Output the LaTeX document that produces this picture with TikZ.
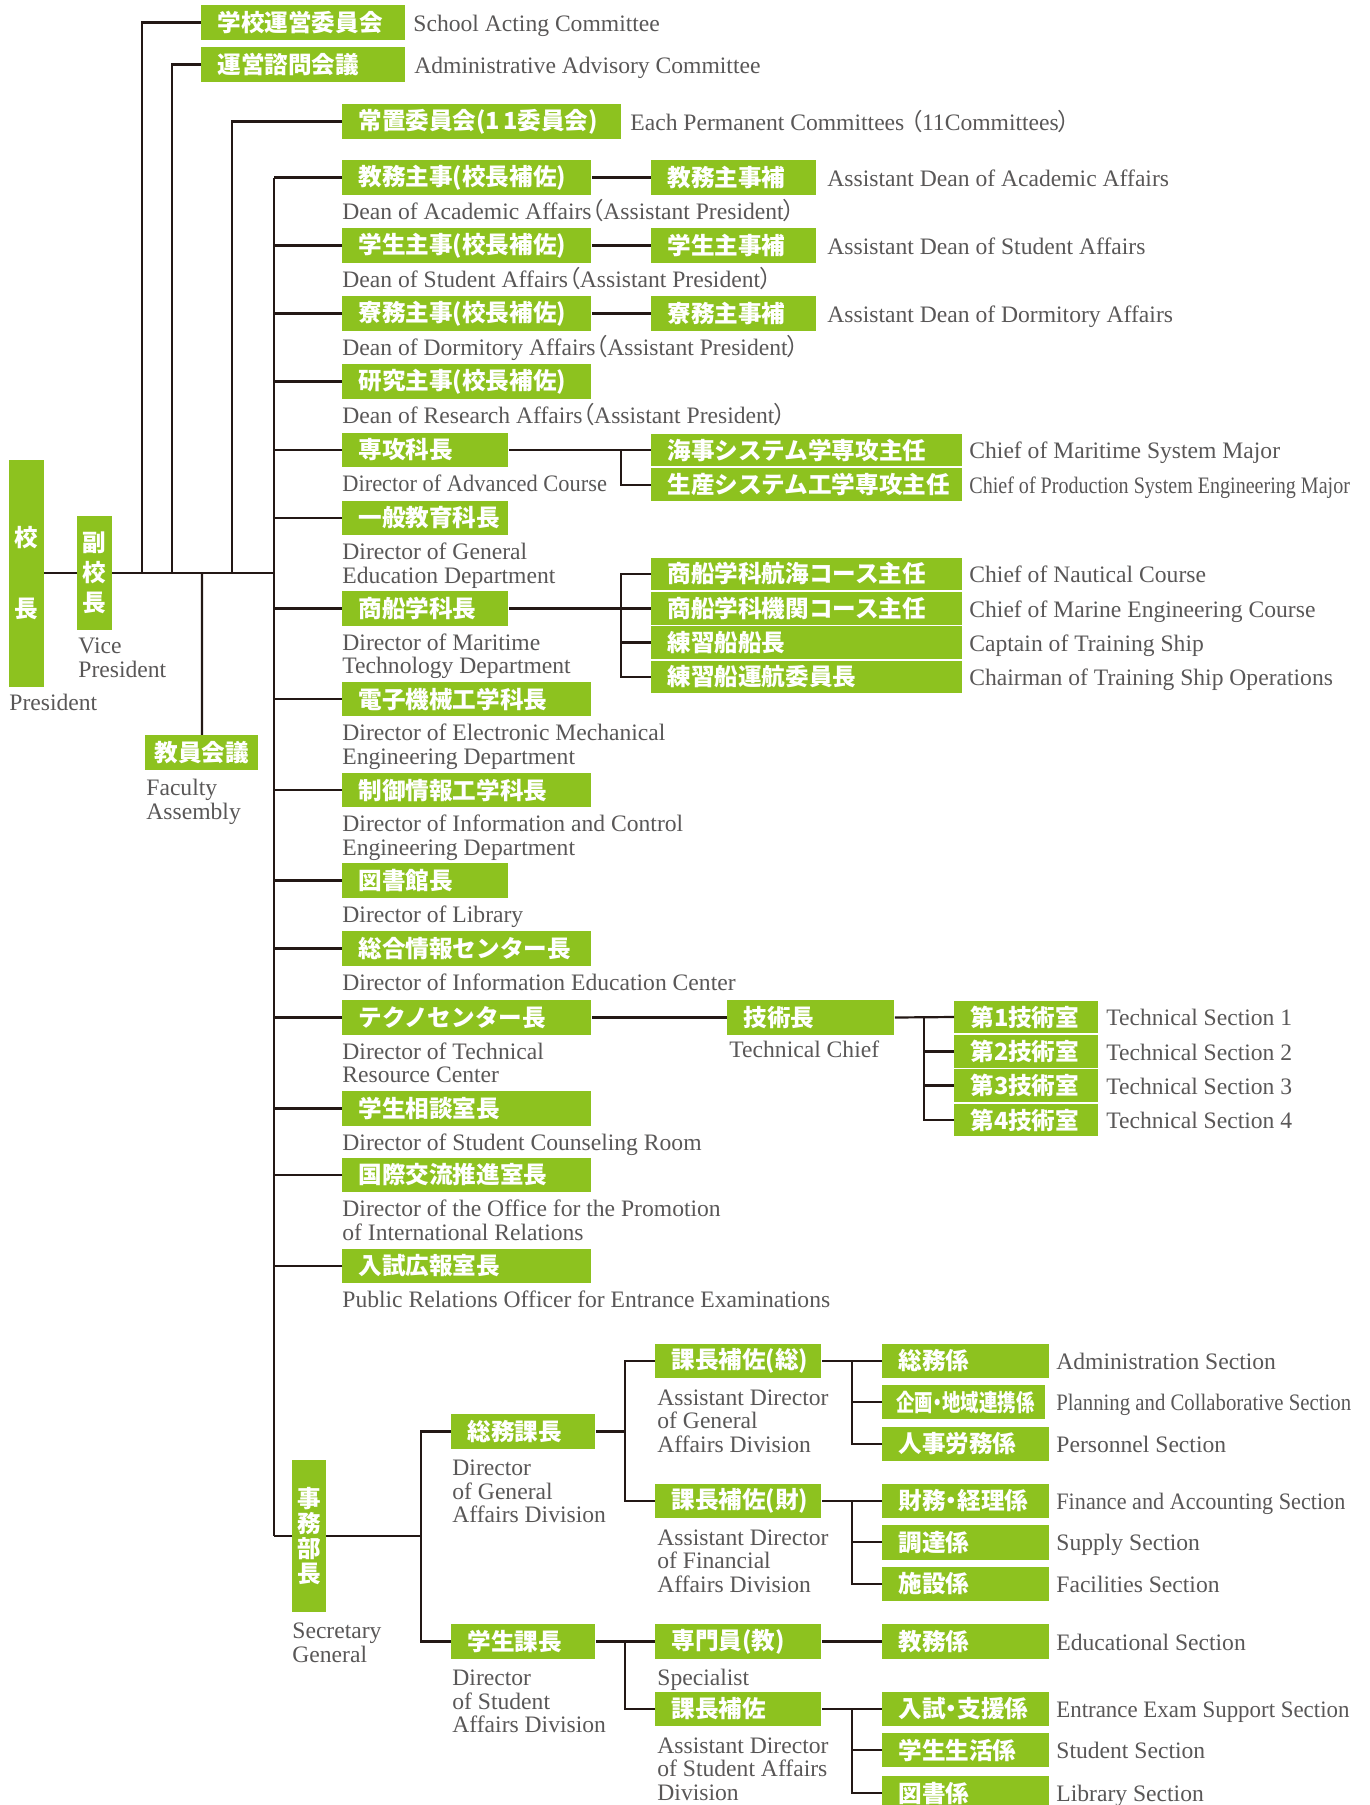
\documentclass[tikz,border=0pt]{standalone}
\usepackage{fontspec}
\usepackage{graphicx}
\setmainfont{Liberation Serif}
\newfontfamily\jp{Noto Sans CJK JP}
\newfontfamily\jpp[RawFeature=+palt]{Noto Sans CJK JP}
\definecolor{grn}{HTML}{8DC21F}
\definecolor{txt}{HTML}{595757}
\definecolor{ln}{HTML}{231815}
\newcommand{\ml}[1]{\begin{tabular}[t]{@{}l@{}}#1\end{tabular}}
\newcommand{\jl}{{\jpp\mdseries （}}
\newcommand{\jr}{{\jpp\mdseries ）}}
\tikzset{
  conn/.style={draw=ln, line width=1.1pt},
  gb/.style={fill=grn, text=white, font=\jp\bfseries\fontsize{11.8}{12}\selectfont,
    inner xsep=8pt, inner ysep=0pt, minimum height=17.3pt, anchor=west, align=left, text width=#1},
  stk/.style={minimum height=16.3pt},
  vb/.style={fill=grn, text=white, inner sep=0pt, align=center},
  lab/.style={text=txt, font=\fontsize{11.8}{11.75}\selectfont, inner sep=0pt, anchor=base west},
}
\begin{document}
\begin{tikzpicture}[x=0.5pt,y=-0.5pt]
\useasboundingbox (0,0) rectangle (1370,1805);
% ---------- president / vice president / faculty
\node[vb, minimum width=17.5pt, minimum height=113.5pt, font=\jp\bfseries\fontsize{11.8}{35.5}\selectfont] (pres) at (26.5,573) {校\\長};
\node[lab] (presE) at (9,710.5) {President};
\node[vb, minimum width=17.5pt, minimum height=57pt, font=\jp\bfseries\fontsize{11.8}{15}\selectfont] (vp) at (94.5,573) {副\\校\\長};
\node[lab] (vpE) at (78,653.5) {\ml{Vice\\President}};
\node[gb=47.5pt, inner xsep=4.5pt] (fa) at (145,752.5) {教員会議};
\node[lab] (faE) at (146,795.5) {\ml{Faculty\\Assembly}};
% ---------- top committees
\node[gb=86pt] (sac) at (201,22.5) {学校運営委員会};
\node[lab] (sacE) at (413,31) {School Acting Committee};
\node[gb=86pt] (aac) at (201,64.5) {運営諮問会議};
\node[lab] (aacE) at (414,73) {Administrative Advisory Committee};
\node[gb=123.5pt] (pc) at (342,121.5) {常置委員会(1\kern1.5pt 1委員会)};
\node[lab] (pcE) at (630,130) {Each Permanent Committees \jl 11Committees\jr};
% trunk coordinates
\coordinate (j1) at (142,573);
\coordinate (j2) at (172,573);
\coordinate (jfa) at (202,573);
\coordinate (j3) at (232,573);
\coordinate (tTop) at (274,177.5);
\coordinate (tBot) at (274,1536);
% ---------- rows
\node[gb=108.5pt] (r1) at (342,177.5) {教務主事(校長補佐)};
\node[lab] (r1E) at (342,219) {Dean of Academic Affairs\jl Assistant President\jr};
\node[gb=66.5pt] (a1) at (651,177.5) {教務主事補};
\node[lab] (a1E) at (827,186) {Assistant Dean of Academic Affairs};
\node[gb=108.5pt] (r2) at (342,245.5) {学生主事(校長補佐)};
\node[lab] (r2E) at (342,287) {Dean of Student Affairs\jl Assistant President\jr};
\node[gb=66.5pt] (a2) at (651,245.5) {学生主事補};
\node[lab] (a2E) at (827,254) {Assistant Dean of Student Affairs};
\node[gb=108.5pt] (r3) at (342,313.5) {寮務主事(校長補佐)};
\node[lab] (r3E) at (342,355) {Dean of Dormitory Affairs\jl Assistant President\jr};
\node[gb=66.5pt] (a3) at (651,313.5) {寮務主事補};
\node[lab] (a3E) at (827,322) {Assistant Dean of Dormitory Affairs};
\node[gb=108.5pt] (r4) at (342,381.5) {研究主事(校長補佐)};
\node[lab] (r4E) at (342,423) {Dean of Research Affairs\jl Assistant President\jr};
\node[gb=67pt] (r5) at (342,450) {専攻科長};
\node[lab] (r5E) at (342,491.5) {\scalebox{0.95}[1]{Director of Advanced Course}};
\node[gb=139.5pt, stk] (m1) at (651,450) {海事システム学専攻主任};
\node[lab] (m1E) at (969,458.5) {Chief of Maritime System Major};
\node[gb=139.5pt, stk] (m2) at (651,484.7) {生産システム工学専攻主任};
\node[lab] (m2E) at (969,493.2) {\scalebox{0.85}[1]{Chief of Production System Engineering Major}};
\node[gb=67pt] (r6) at (342,518) {一般教育科長};
\node[lab] (r6E) at (342,559.5) {\ml{Director of General\\Education Department}};
\node[gb=67pt] (r7) at (342,608.5) {商船学科長};
\node[lab] (r7E) at (342,650) {\ml{Director of Maritime\\Technology Department}};
\node[gb=139.5pt, stk] (s1) at (651,574) {商船学科航海コース主任};
\node[lab] (s1E) at (969,582.5) {Chief of Nautical Course};
\node[gb=139.5pt, stk] (s2) at (651,608.5) {商船学科機関コース主任};
\node[lab] (s2E) at (969,617) {Chief of Marine Engineering Course};
\node[gb=139.5pt, stk] (s3) at (651,642.5) {練習船船長};
\node[lab] (s3E) at (969,651) {Captain of Training Ship};
\node[gb=139.5pt, stk] (s4) at (651,677) {練習船運航委員長};
\node[lab] (s4E) at (969,685.5) {Chairman of Training Ship Operations};
\node[gb=108.5pt] (r8) at (342,699) {電子機械工学科長};
\node[lab] (r8E) at (342,740.5) {\ml{Director of Electronic Mechanical\\Engineering Department}};
\node[gb=108.5pt] (r9) at (342,790) {制御情報工学科長};
\node[lab] (r9E) at (342,831.5) {\ml{Director of Information and Control\\Engineering Department}};
\node[gb=67pt] (r10) at (342,880.5) {図書館長};
\node[lab] (r10E) at (342,922) {Director of Library};
\node[gb=108.5pt] (r11) at (342,948.5) {総合情報センター長};
\node[lab] (r11E) at (342,990) {Director of Information Education Center};
\node[gb=108.5pt] (r12) at (342,1017.5) {テクノセンター長};
\node[lab] (r12E) at (342,1059) {\ml{Director of Technical\\Resource Center}};
\node[gb=67.5pt] (tc) at (727,1017.5) {技術長};
\node[lab] (tcE) at (729,1057) {Technical Chief};
\node[gb=56pt, stk] (t1) at (954,1017) {第1技術室};
\node[lab] (t1E) at (1106,1025.5) {Technical Section 1};
\node[gb=56pt, stk] (t2) at (954,1051.5) {第2技術室};
\node[lab] (t2E) at (1106,1060) {Technical Section 2};
\node[gb=56pt, stk] (t3) at (954,1085.5) {第3技術室};
\node[lab] (t3E) at (1106,1094) {Technical Section 3};
\node[gb=56pt, stk] (t4) at (954,1120) {第4技術室};
\node[lab] (t4E) at (1106,1128.5) {Technical Section 4};
\node[gb=108.5pt] (r13) at (342,1108.5) {学生相談室長};
\node[lab] (r13E) at (342,1150) {Director of Student Counseling Room};
\node[gb=108.5pt] (r14) at (342,1175) {国際交流推進室長};
\node[lab] (r14E) at (342,1216.5) {\ml{Director of the Office for the Promotion\\of International Relations}};
\node[gb=108.5pt] (r15) at (342,1266) {入試広報室長};
\node[lab] (r15E) at (342,1307.5) {Public Relations Officer for Entrance Examinations};
% ---------- secretary general
\node[vb, minimum width=17pt, minimum height=76pt, font=\jp\bfseries\fontsize{11.8}{12.35}\selectfont] (sg) at (309,1536) {事\\務\\部\\長};
\node[lab] (sgE) at (292,1638.5) {\ml{Secretary\\General}};
\node[gb=56pt] (g1) at (451,1431.5) {総務課長};
\node[lab] (g1E) at (452,1475.5) {\ml{Director\\of General\\Affairs Division}};
\node[gb=56pt] (g2) at (451,1641.5) {学生課長};
\node[lab] (g2E) at (452,1685.5) {\ml{Director\\of Student\\Affairs Division}};
\node[gb=67pt] (k1) at (655,1361) {課長補佐(総)};
\node[lab] (k1E) at (657,1405) {\ml{Assistant Director\\of General\\Affairs Division}};
\node[gb=67pt] (k2) at (655,1501) {課長補佐(財)};
\node[lab] (k2E) at (657,1545) {\ml{Assistant Director\\of Financial\\Affairs Division}};
\node[gb=67pt] (k3) at (655,1641.5) {専門員(教)};
\node[lab] (k3E) at (657,1685.5) {Specialist};
\node[gb=67pt] (k4) at (655,1709) {課長補佐};
\node[lab] (k4E) at (657,1753) {\ml{Assistant Director\\of Student Affairs\\Division}};
\node[gb=67.5pt] (x1) at (882,1361) {総務係};
\node[lab] (x1E) at (1056,1369.5) {Administration Section};
\node[gb=67.5pt, inner xsep=7pt] (x2) at (882,1402) {\jpp\scalebox{0.78}[1]{企画・地域連携係}};
\node[lab] (x2E) at (1056,1410.5) {\scalebox{0.88}[1]{Planning and Collaborative Section}};
\node[gb=67.5pt] (x3) at (882,1444) {人事労務係};
\node[lab] (x3E) at (1056,1452.5) {Personnel Section};
\node[gb=67.5pt] (x4) at (882,1501) {\jpp 財務・経理係};
\node[lab] (x4E) at (1056,1509.5) {\scalebox{0.94}[1]{Finance and Accounting Section}};
\node[gb=67.5pt] (x5) at (882,1542.3) {調達係};
\node[lab] (x5E) at (1056,1550.8) {Supply Section};
\node[gb=67.5pt] (x6) at (882,1584) {施設係};
\node[lab] (x6E) at (1056,1592.5) {Facilities Section};
\node[gb=67.5pt] (x7) at (882,1641.5) {教務係};
\node[lab] (x7E) at (1056,1650) {Educational Section};
\node[gb=67.5pt] (x8) at (882,1709) {\jpp 入試・支援係};
\node[lab] (x8E) at (1056,1717.5) {\scalebox{0.97}[1]{Entrance Exam Support Section}};
\node[gb=67.5pt] (x9) at (882,1750) {学生生活係};
\node[lab] (x9E) at (1056,1758.5) {Student Section};
\node[gb=67.5pt] (x10) at (882,1793) {図書係};
\node[lab] (x10E) at (1056,1801.5) {Library Section};
% ---------- branch coordinates
\coordinate (v5) at (621,450);
\coordinate (v7) at (621,608.5);
\coordinate (v12) at (924,1017.5);
\coordinate (v20) at (421,1536);
\coordinate (v21) at (625,1431.5);
\coordinate (v22) at (852,1361);
\coordinate (v23) at (852,1501);
\coordinate (v24) at (625,1641.5);
\coordinate (v25) at (852,1709);
% ---------- connectors
\draw[conn] (sac.west) -| (j1);
\draw[conn] (aac.west) -| (j2);
\draw[conn] (pc.west) -| (j3);
\draw[conn] (pres.east) -- (vp.west);
\draw[conn] (vp.east) -- (vp.east -| tTop);
\draw[conn] (jfa) -- (fa.north);
\draw[conn] (tTop) -- (tBot);
\foreach \r in {r1,r2,r3,r4,r5,r6,r7,r8,r9,r10,r11,r12,r13,r14,r15}
  {\draw[conn] (\r.west) -- (\r.west -| tTop);}
\draw[conn] (r1.east) -- (a1.west);
\draw[conn] (r2.east) -- (a2.west);
\draw[conn] (r3.east) -- (a3.west);
\draw[conn] (r5.east) -- (m1.west);
\draw[conn] (m2.west) -| (v5);
\draw[conn] (r7.east) -- (s2.west);
\draw[conn] (s1.west) -| (v7);
\draw[conn] (s3.west) -| (v7);
\draw[conn] (s4.west) -| (v7);
\draw[conn] (r12.east) -- (tc.west);
\draw[conn] (tc.east) -- (t1.west);
\draw[conn] (t2.west) -| (v12);
\draw[conn] (t3.west) -| (v12);
\draw[conn] (t4.west) -| (v12);
\draw[conn] (tBot) -- (sg.west);
\draw[conn] (sg.east) -- (v20);
\draw[conn] (g1.west) -| (v20);
\draw[conn] (g2.west) -| (v20);
\draw[conn] (g1.east) -- (v21);
\draw[conn] (k1.west) -| (v21);
\draw[conn] (k2.west) -| (v21);
\draw[conn] (k1.east) -- (x1.west);
\draw[conn] (x2.west) -| (v22);
\draw[conn] (x3.west) -| (v22);
\draw[conn] (k2.east) -- (x4.west);
\draw[conn] (x5.west) -| (v23);
\draw[conn] (x6.west) -| (v23);
\draw[conn] (g2.east) -- (k3.west);
\draw[conn] (k4.west) -| (v24);
\draw[conn] (k3.east) -- (x7.west);
\draw[conn] (k4.east) -- (x8.west);
\draw[conn] (x9.west) -| (v25);
\draw[conn] (x10.west) -| (v25);
\end{tikzpicture}
\end{document}
